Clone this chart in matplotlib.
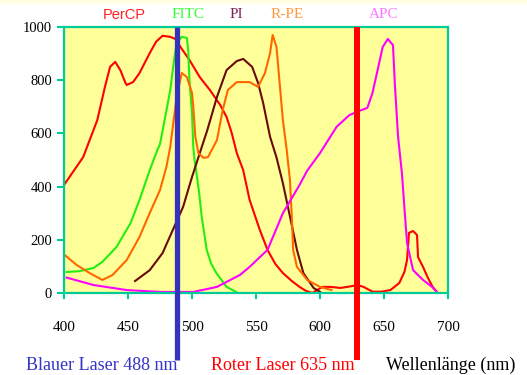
import numpy as np
import matplotlib
matplotlib.use('Agg')
import matplotlib.pyplot as plt
from matplotlib.patches import Rectangle

plt.rcParams['font.family'] = 'Liberation Serif'

# spectra (wavelength nm, intensity)
percp_x = [400, 415, 426, 432, 436, 440, 444, 448, 449, 454, 459, 467, 472, 477, 483, 487, 491, 498,
           506, 514, 522, 527, 531, 535, 540, 545, 553, 559, 565, 571, 578, 584, 589, 594, 598, 602,
           608, 616, 624, 629, 634, 641, 648, 655, 662, 666, 668, 669.5, 672.7, 675.8, 676.6, 680.5,
           684, 688, 692]
percp_y = [406, 511, 650, 775, 850, 869, 838, 790, 782, 793, 827, 902, 945, 967, 963, 955, 925, 876,
           812, 763, 707, 662, 602, 526, 462, 350, 237, 162, 110, 75, 45, 23, 8, 0, 12, 23,
           23, 19, 25, 30, 23, 5, 5, 11, 38, 80, 124, 226, 233, 218, 135, 98,
           60, 23, 0]

fitc_x = [402, 412, 423, 430, 441, 452, 459, 467, 473, 475, 479, 483, 486, 488, 492, 496, 497, 498,
          500, 501, 502, 503.5, 505.5, 507.6, 511.5, 515, 519, 527, 536]
fitc_y = [79, 82, 94, 117, 173, 263, 350, 462, 538, 560, 660, 763, 876, 940, 963, 959, 914, 801,
          677, 549, 500, 450, 380, 286, 162, 110, 75, 23, 0]

pi_x = [455.5, 467, 477, 485, 493, 500, 505, 512, 519.5, 527, 535, 540, 547, 551.6, 555.6, 561, 566,
        571, 576.6, 582, 587, 595, 600]
pi_y = [45, 86, 150, 237, 323, 436, 510, 613, 737, 838, 872, 880, 850, 790, 714, 587, 510,
        413, 286, 162, 75, 19, 4]

rpe_x = [400, 410, 420, 430, 438, 449, 459, 467, 475, 480, 483, 488, 492, 496, 500, 501, 502.6, 505,
         509, 512.5, 519.5, 524, 528, 535, 545, 551.6, 557, 561, 563, 566, 571, 574, 576.5, 578,
         579, 582, 590, 600, 609]
rpe_y = [145, 105, 75, 49, 68, 124, 211, 301, 387, 474, 549, 737, 827, 812, 752, 700, 587, 526,
         508, 511, 575, 688, 763, 793, 793, 775, 827, 902, 970, 925, 650, 538, 425, 286,
         162, 98, 49, 23, 11]

apc_x = [402, 423, 449, 475, 501, 519.5, 537.5, 545, 553, 559, 571, 584, 590, 600, 613, 623, 631, 637,
         641, 645, 649, 653, 657, 658.6, 661, 664, 665.5, 668, 672.7, 680.5, 687.5, 692]
apc_y = [58, 30, 11, 4, 4, 23, 68, 98, 135, 162, 300, 406, 460, 526, 625, 669, 685, 696,
         752, 838, 925, 955, 932, 775, 587, 450, 350, 188, 86, 49, 23, 0]

lasers = [488.5, 629]
xticks = [400, 450, 500, 550, 600, 650, 700]
yticks = [0, 200, 400, 600, 800, 1000]

teal = '#00CC99'

fig = plt.figure(figsize=(5.27, 3.75), dpi=100)
fig.patches.append(Rectangle((0, 0.992), 1, 0.008, transform=fig.transFigure,
                             color='#FFFDE4', zorder=-1))
ax = fig.add_axes([64 / 527, 82 / 375, 384 / 527, 266 / 375])
ax.set_facecolor('#FFFF99')

ax.plot(percp_x, percp_y, color='#FF0000', lw=1.5)
ax.plot(fitc_x, fitc_y, color='#22EE11', lw=1.5)
ax.plot(pi_x, pi_y, color='#6B0A0A', lw=1.5)
ax.plot(rpe_x, rpe_y, color='#FF6600', lw=1.5)
ax.plot(apc_x, apc_y, color='#FF00FF', lw=1.5)

# laser lines run down past the axis into the label row
ax.plot([lasers[0]] * 2, [1000, -252], color='#3333BB', lw=3.8, solid_capstyle='butt',
        clip_on=False, zorder=5)
ax.plot([lasers[1]] * 2, [1000, -252], color='#FF0000', lw=4.3, solid_capstyle='butt',
        clip_on=False, zorder=5)

ax.set_xlim(400, 700)
ax.set_ylim(0, 1000)
ax.set_xticks(xticks)
ax.set_yticks(yticks)
ax.tick_params(axis='x', direction='out', length=4, width=1.5, color=teal, pad=16, labelsize=11)
ax.tick_params(axis='y', direction='out', length=5, width=1.5, color=teal, pad=3.5, labelsize=10.5)
for s in ax.spines.values():
    s.set_color(teal)
    s.set_linewidth(1.6)

def fx(px):
    return px / 527

def fy(py):
    return 1 - py / 375

fig.text(fx(124), fy(15), 'PerCP', color='#FF2020', family='Liberation Sans', fontsize=10.5,
         ha='center', va='center')
fig.text(fx(188), fy(15), 'FITC', color='#33FF33', fontsize=11, ha='center', va='center')
fig.text(fx(236), fy(15), 'PI', color='#7F1F5A', fontsize=11, ha='center', va='center')
fig.text(fx(287), fy(15), 'R-PE', color='#FF9940', fontsize=11, ha='center', va='center')
fig.text(fx(384), fy(15), 'APC', color='#FF77FF', fontsize=11, ha='center', va='center')

fig.text(fx(102), fy(365), 'Blauer Laser 488 nm', color='#3333CC', fontsize=13,
         ha='center', va='center')
fig.text(fx(283), fy(365), 'Roter Laser 635 nm', color='#FF0000', fontsize=13,
         ha='center', va='center')
fig.text(fx(451), fy(365), 'Wellenlänge (nm)', color='black', fontsize=13,
         ha='center', va='center')

fig.savefig('out.png', dpi=100)
